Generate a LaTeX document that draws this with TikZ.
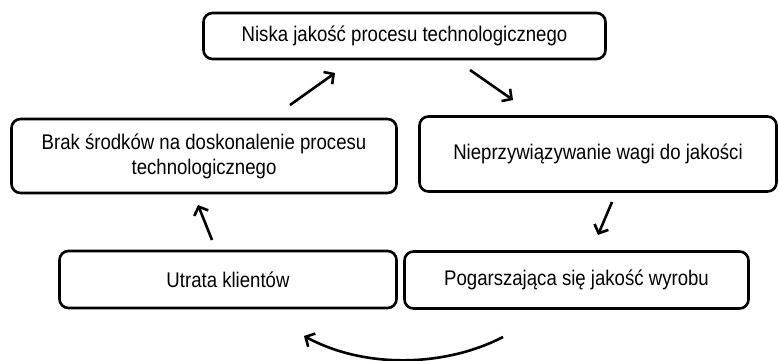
\documentclass[tikz,border=0pt]{standalone}
\usepackage{fontspec}
\setmainfont{Liberation Sans}
\usepackage{graphicx}
\usepackage{tikz}
\usetikzlibrary{arrows.meta, positioning}
\newcommand{\tallline}[1]{\scalebox{1}[1.14]{#1}}

\begin{document}
\begin{tikzpicture}[x=1pt, y=1pt,
  box/.style={draw=black, line width=2.6pt, rounded corners=9pt, fill=white,
              align=center, font=\fontsize{18.6}{25}\selectfont, inner sep=2pt},
  flow/.style={line width=2.6pt, -{Straight Barb[length=7pt, width=15pt, line width=2.6pt]}}
]
\useasboundingbox (0,0) rectangle (779,361);

\node[box, minimum width=402pt, minimum height=46pt] (quality) at (404.5,325) {\tallline{Niska jakość procesu technologicznego}};
\node[box, minimum width=385pt, minimum height=74pt] (funds) at (204,205) {\tallline{Brak środków na doskonalenie procesu}\\\tallline{technologicznego}};
\node[box, minimum width=357pt, minimum height=75pt] (neglect) at (598,207) {\tallline{Nieprzywiązywanie wagi do jakości}};
\node[box, minimum width=337pt, minimum height=57pt] (clients) at (228,81.5) {\tallline{Utrata klientów}};
\node[box, minimum width=344pt, minimum height=57pt] (product) at (576.5,81) {\tallline{Pogarszająca się jakość wyrobu}};

% arrow ends between the boxes
\coordinate (f-from) at (290,256);   \coordinate (f-to) at (335,288);
\coordinate (q-from) at (470,291);   \coordinate (q-to) at (513,261);
\coordinate (n-from) at (612,159);   \coordinate (n-to) at (598,126);
\coordinate (p-from) at (503,24);    \coordinate (p-to) at (304,25);
\coordinate (c-from) at (212,121);   \coordinate (c-to) at (198,156);

\draw[flow] (f-from) -- (f-to);
\draw[flow] (q-from) -- (q-to);
\draw[flow] (n-from) -- (n-to);
\draw[flow] (p-from) .. controls (445,-6) and (365,-8) .. (p-to);
\draw[flow] (c-from) -- (c-to);
\end{tikzpicture}
\end{document}
